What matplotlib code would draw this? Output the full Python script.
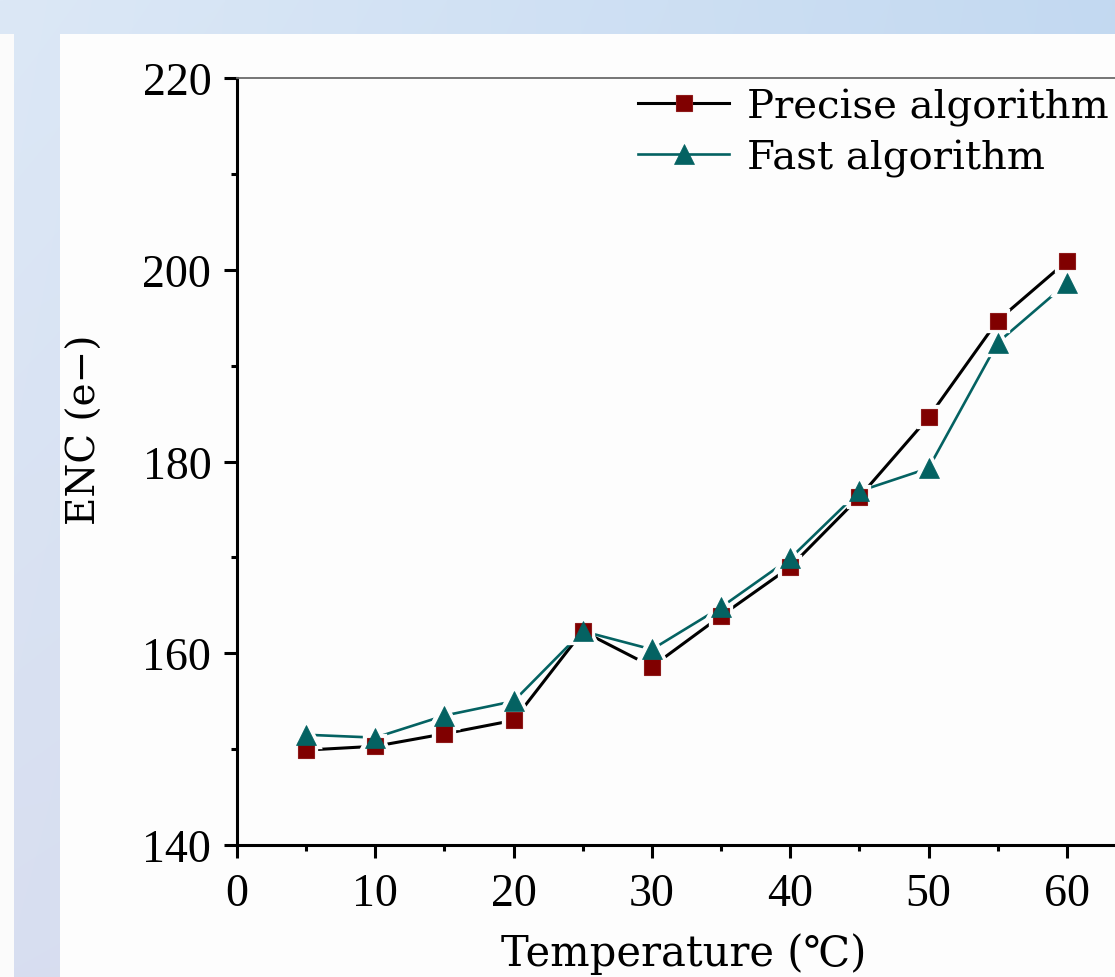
import numpy as np
import matplotlib
matplotlib.use("Agg")
import matplotlib.pyplot as plt
from matplotlib.ticker import MultipleLocator, FixedLocator
from matplotlib.patches import Rectangle
from matplotlib.lines import Line2D
from matplotlib.font_manager import FontProperties
from matplotlib.colors import to_rgb

# ---------------- data ----------------
temperature = [5, 10, 15, 20, 25, 30, 35, 40, 45, 50, 55, 60]
precise = [149.9, 150.3, 151.6, 153.0, 162.3, 158.6, 163.9, 169.0, 176.3, 184.6, 194.7, 200.9]
fast = [151.5, 151.2, 153.5, 155.0, 162.3, 160.4, 164.8, 169.9, 176.9, 179.3, 192.4, 198.6]
x_ticks = [0, 10, 20, 30, 40, 50, 60]
y_ticks = [140, 160, 180, 200, 220]
series_labels = ["Precise algorithm", "Fast algorithm"]
x_label = "Temperature (\u2103)"
y_label = "ENC (e\u2212)"

plt.rcParams["font.family"] = ["Liberation Serif", "DejaVu Serif"]

W, H = 1115, 978
fig = plt.figure(figsize=(W / 100, H / 100), dpi=100)

# ---------------- background (slide-like) ----------------
bg = fig.add_axes([0, 0, 1, 1], zorder=-10)
bg.set_xlim(0, W)
bg.set_ylim(H, 0)
bg.axis("off")
tl, tr, bl, br = (np.array(to_rgb(c)) for c in ("#dce8f6", "#c3d9f1", "#d8def0", "#c9d8ef"))
gx = np.linspace(0, 1, 200)[None, :, None]
gy = np.linspace(0, 1, 200)[:, None, None]
grad = (1 - gy) * ((1 - gx) * tl + gx * tr) + gy * ((1 - gx) * bl + gx * br)
bg.imshow(grad, extent=(0, W, H, 0), aspect="auto", interpolation="bilinear")
bg.add_patch(Rectangle((0, 35), 14, H - 35, facecolor="#fbfbfb", edgecolor="none"))
bg.add_patch(Rectangle((60, 35), W - 60, H - 35, facecolor="#fdfdfd", edgecolor="none"))

# ---------------- main axes ----------------
ax = fig.add_axes([237 / W, 1 - 846 / H, 899 / W, 767 / H])
ax.patch.set_alpha(0)
ax.set_xlim(0, 65)
ax.set_ylim(140, 220)

c_prec_line = "black"
c_prec_mark = "#800000"
c_fast = "#046262"
lw_p, lw_f = 2.2, 1.9
ms_s, ms_t = 11.5, 15

ax.plot(temperature, precise, color=c_prec_line, lw=lw_p, zorder=2, solid_capstyle="butt")
ax.plot(temperature, fast, color=c_fast, lw=lw_f, zorder=2, solid_capstyle="butt")
# white halos to create gaps between lines and markers
ax.plot(temperature, precise, ls="none", marker="s", ms=ms_s, mfc="#fdfdfd", mec="#fdfdfd", mew=6, zorder=3)
ax.plot(temperature, fast, ls="none", marker="^", ms=ms_t, mfc="#fdfdfd", mec="#fdfdfd", mew=6, zorder=3)
# markers
ax.plot(temperature, precise, ls="none", marker="s", ms=ms_s, mfc=c_prec_mark, mec="#8e1a1a", mew=0.8, zorder=4)
ax.plot(temperature, fast, ls="none", marker="^", ms=ms_t, mfc=c_fast, mec=c_fast, mew=0.5, zorder=5)

# spines
ax.spines["right"].set_visible(False)
ax.spines["top"].set_color("#6a6a6a")
ax.spines["top"].set_linewidth(1.3)
for s in ("left", "bottom"):
    ax.spines[s].set_linewidth(2.2)
    ax.spines[s].set_color("black")

ax.xaxis.set_major_locator(FixedLocator(x_ticks))
ax.xaxis.set_minor_locator(MultipleLocator(5))
ax.yaxis.set_major_locator(FixedLocator(y_ticks))
ax.yaxis.set_minor_locator(MultipleLocator(10))
ax.tick_params(axis="both", which="major", direction="out", length=9.5, width=2.2, labelsize=33, color="black")
ax.tick_params(axis="both", which="minor", direction="out", length=4.5, width=2.2, color="black")
ax.tick_params(axis="y", which="major", pad=9)
ax.tick_params(axis="x", which="major", pad=10)
ax.tick_params(top=False, right=False, which="both")

# ---------------- labels ----------------
lab_font = ["DejaVu Serif", "DejaVu Sans"]
fig.text(684 / W, 1 - 966 / H, x_label, ha="center", va="baseline", fontsize=30, family=lab_font)
fig.text(85 / W, 1 - 430 / H, y_label, ha="center", va="center", rotation=90, fontsize=28, family=lab_font)

# ---------------- legend ----------------
handles = [
    Line2D([], [], color=c_prec_line, lw=lw_p, marker="s", ms=ms_s, mfc=c_prec_mark, mec="#8e1a1a", mew=0.8),
    Line2D([], [], color=c_fast, lw=lw_f, marker="^", ms=ms_t, mfc=c_fast, mec=c_fast, mew=0.5),
]
fs = 29
fpx = fs * 100 / 72
leg = ax.legend(handles, series_labels, loc="upper left",
                bbox_to_anchor=(638 / W, 1 - 89 / H), bbox_transform=fig.transFigure,
                frameon=False, borderpad=0, borderaxespad=0,
                handlelength=91 / fpx, handletextpad=18 / fpx, labelspacing=0.32,
                prop=FontProperties(family="DejaVu Serif", size=fs))

fig.savefig("out.png", dpi=100)
